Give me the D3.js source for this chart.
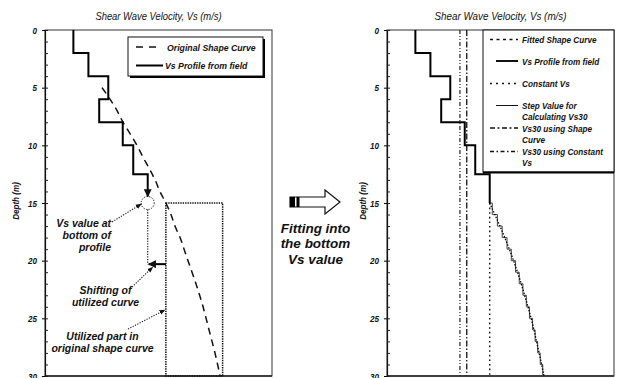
<!DOCTYPE html>
<html>
<head>
<meta charset="utf-8">
<script src="https://cdn.jsdelivr.net/npm/d3@7"></script>
<style>
  body { margin: 0; background: #fff; }
  svg { display: block; }
</style>
</head>
<body>
<svg id="chart" width="621" height="378"></svg>
<script>
// ---- data ----------------------------------------------------------------
const depthTicks = [0, 5, 10, 15, 20, 25, 30];
const minorDepthTicks = [0,1,2,3,4,5,6,7,8,9,10,11,12,13,14,15,16,17,18,19,20,21,22,23,24,25,26,27,28,29,30];

// field Vs profile (layer top, layer bottom in m, Vs in m/s)
const layerTop    = [0, 2, 4, 6, 8, 10, 12.5];
const layerBottom = [2, 4, 6, 8, 10, 12.5, 15];
const layerVs     = [100, 153, 223, 191, 274, 311, 362];

// original shape curve
const shapeDepth = [5, 6, 7, 8, 9, 10, 11, 12, 13, 14, 15, 16, 17, 18, 19, 20, 22, 24, 26, 28, 30];
const shapeVs    = [201, 229, 254, 275, 300, 324, 345, 367, 388, 405, 426, 444, 458, 476, 490, 504, 532, 557, 578, 599, 617];

// shape curve fitted into the bottom Vs value
const fittedDepth = [15, 16, 17, 18, 19, 20, 21, 22, 23, 24, 25, 26, 27, 28, 29, 30];
const fittedVs    = [362, 380, 398, 415, 431, 446, 460, 473, 485, 497, 508, 518, 527, 536, 545, 553];

// step values used for Vs30 (1 m steps below the profile)
const stepTop = [15, 16, 17, 18, 19, 20, 21, 22, 23, 24, 25, 26, 27, 28, 29];
const stepVs  = [371, 389, 406, 423, 438, 453, 466, 479, 491, 502, 513, 522, 531, 540, 549];

const constantVs   = 362;
const vs30Shape    = 281;
const vs30Constant = 257;

// part of the original curve that is used
const utilizedVs    = [426, 626];
const utilizedDepth = [15, 30];
const shiftDepth    = 20.3;

// ---- layout --------------------------------------------------------------
const SANS = "'Liberation Sans',Arial,sans-serif";
const TOP = 30, BOTTOM = 376;
const VS_DOMAIN = [0, 800];

const svg = d3.select("#chart");
const y = d3.scaleLinear().domain([0, 30]).range([TOP, BOTTOM]);
const xL = d3.scaleLinear().domain(VS_DOMAIN).range([45, 272]);
const xR = d3.scaleLinear().domain(VS_DOMAIN).range([387, 614]);

// condensed italic text: drawn at (x, y) and squeezed horizontally by sx
function ctext(parent, x, y0, lines, o) {
  const t = parent.append("text")
    .attr("transform", `translate(${x},${y0}) scale(${o.sx || 1},1)`)
    .attr("text-anchor", o.anchor || "start")
    .attr("font-family", SANS).attr("font-style", "italic")
    .attr("font-weight", o.bold ? "bold" : "normal")
    .attr("font-size", o.size).attr("fill", "#111");
  [].concat(lines).forEach((s, i) => t.append("tspan").attr("x", 0).attr("y", i * (o.dy || 0)).text(s));
  return t;
}

const defs = svg.append("defs");
defs.append("marker").attr("id", "head").attr("viewBox", "0 0 10 10")
  .attr("refX", 9).attr("refY", 5).attr("markerWidth", 6).attr("markerHeight", 6)
  .attr("markerUnits", "userSpaceOnUse").attr("orient", "auto")
  .append("path").attr("d", "M0,1 L10,5 L0,9 Z").attr("fill", "#111");
defs.append("marker").attr("id", "headBig").attr("viewBox", "0 0 10 10")
  .attr("refX", 9).attr("refY", 5).attr("markerWidth", 8).attr("markerHeight", 8)
  .attr("markerUnits", "userSpaceOnUse").attr("orient", "auto")
  .append("path").attr("d", "M0,0 L10,5 L0,10 Z").attr("fill", "#111");

function panelFrame(x, titleSx, labelX) {
  const [x0, x1] = x.range();
  const g = svg.append("g");
  g.append("rect").attr("x", x0).attr("y", TOP).attr("width", x1 - x0).attr("height", BOTTOM - TOP)
    .attr("fill", "none").attr("stroke", "#333").attr("stroke-width", 1);
  g.append("line").attr("x1", x0).attr("x2", x1).attr("y1", BOTTOM).attr("y2", BOTTOM)
    .attr("stroke", "#222").attr("stroke-width", 1.6);

  const major = d3.axisLeft(y).tickValues(depthTicks).tickSize(3).tickPadding(5).tickFormat(d3.format("d"));
  const ga = g.append("g").attr("transform", `translate(${x0},0)`).call(major);
  ga.select(".domain").attr("stroke", "#111").attr("stroke-width", 1.2);
  ga.selectAll("text").each(function () {
    const t = d3.select(this);
    const tx = +t.attr("x");
    t.attr("x", 0).attr("transform", `translate(${tx},0) scale(0.85,1)`);
  }).attr("font-family", SANS).attr("font-style", "italic")
    .attr("font-weight", "bold").attr("font-size", 9.5).attr("fill", "#111");
  const minor = d3.axisRight(y).tickValues(minorDepthTicks).tickSize(3).tickFormat("");
  const gm = g.append("g").attr("transform", `translate(${x0},0)`).call(minor);
  gm.select(".domain").remove();
  gm.selectAll("line").attr("stroke", "#222");

  ctext(g, (x0 + x1) / 2, 19.5, "Shear Wave Velocity, Vs (m/s)",
    { size: 10.7, sx: titleSx, anchor: "middle" });
  g.append("text").attr("transform", `translate(${labelX},${y(15) - 2}) rotate(-90) scale(0.9,1)`)
    .attr("text-anchor", "middle").attr("font-family", SANS).attr("font-style", "italic")
    .attr("font-weight", "bold").attr("font-size", 9).attr("fill", "#111").text("Depth (m)");
}

function profilePoints(x, lastBottom) {
  const pts = [];
  layerVs.forEach((v, i) => {
    const bot = i === layerVs.length - 1 && lastBottom != null ? lastBottom : y(layerBottom[i]);
    pts.push([x(v), y(layerTop[i])], [x(v), bot]);
  });
  return pts;
}

const line = d3.line();

// ---- left panel ----------------------------------------------------------
panelFrame(xL, 0.88, 19);

// utilized part box
svg.append("rect")
  .attr("x", xL(utilizedVs[0])).attr("y", y(utilizedDepth[0]))
  .attr("width", xL(utilizedVs[1]) - xL(utilizedVs[0]))
  .attr("height", y(utilizedDepth[1]) - y(utilizedDepth[0]))
  .attr("fill", "none").attr("stroke", "#111").attr("stroke-width", 1.5)
  .attr("stroke-dasharray", "1.4,1");

// original shape curve
svg.append("path")
  .attr("d", d3.line().x((d, i) => xL(shapeVs[i])).y(d => y(d)).curve(d3.curveMonotoneY)(shapeDepth))
  .attr("fill", "none").attr("stroke", "#111").attr("stroke-width", 1.5)
  .attr("stroke-dasharray", "7,5");

// field profile, ending in an arrow onto the bottom value
const circleR = 6.5;
svg.append("path").attr("d", line(profilePoints(xL, y(15) - circleR)))
  .attr("fill", "none").attr("stroke", "#000").attr("stroke-width", 2)
  .attr("marker-end", "url(#headBig)");

// bottom value marker
const bx = xL(layerVs[layerVs.length - 1]), by = y(15);
svg.append("circle").attr("cx", bx).attr("cy", by).attr("r", circleR)
  .attr("fill", "none").attr("stroke", "#222").attr("stroke-width", 1).attr("stroke-dasharray", "1.3,1.3");
svg.append("line").attr("x1", bx).attr("x2", bx).attr("y1", by + circleR).attr("y2", y(shiftDepth))
  .attr("stroke", "#222").attr("stroke-width", 1.2).attr("stroke-dasharray", "1.3,1.3");

// shifting arrow
svg.append("line").attr("x1", xL(utilizedVs[0])).attr("x2", bx + 1)
  .attr("y1", y(shiftDepth)).attr("y2", y(shiftDepth))
  .attr("stroke", "#000").attr("stroke-width", 2).attr("marker-end", "url(#headBig)");

// annotations
const noteOpts = { size: 10.5, bold: true, dy: 12 };
ctext(svg, 111, 226.5, ["Vs value at", "bottom of", "profile"], { ...noteOpts, anchor: "end" });
ctext(svg, 105.5, 293.5, ["Shifting of", "utilized curve"], { ...noteOpts, anchor: "middle" });
ctext(svg, 102.5, 340, ["Utilized part in", "original shape curve"], { ...noteOpts, anchor: "middle" });

function pointer(x1, y1, x2, y2) {
  svg.append("line").attr("x1", x1).attr("y1", y1).attr("x2", x2).attr("y2", y2)
    .attr("stroke", "#222").attr("stroke-width", 1.1).attr("stroke-dasharray", "1.3,1.3")
    .attr("marker-end", "url(#head)");
}
pointer(112, 222, bx - circleR, by + 1);
pointer(132, 287, bx + 5, y(shiftDepth) + 3);
pointer(128, 329, xL(utilizedVs[0]) - 1, 310);

// legend (left)
const lgL = svg.append("g");
lgL.append("rect").attr("x", 130).attr("y", 39).attr("width", 135).attr("height", 39).attr("fill", "#000");
lgL.append("rect").attr("x", 128).attr("y", 37).attr("width", 135).attr("height", 39)
  .attr("fill", "#fff").attr("stroke", "#111").attr("stroke-width", 1);
lgL.append("line").attr("x1", 136).attr("x2", 159).attr("y1", 47).attr("y2", 47)
  .attr("stroke", "#111").attr("stroke-width", 1.5).attr("stroke-dasharray", "7,6");
lgL.append("line").attr("x1", 136).attr("x2", 163).attr("y1", 65.5).attr("y2", 65.5)
  .attr("stroke", "#000").attr("stroke-width", 2);
ctext(lgL, 167, 50.5, "Original Shape Curve", { size: 9.5, sx: 0.92, bold: true });
ctext(lgL, 165, 69, "Vs Profile from field", { size: 9.5, sx: 0.92, bold: true });

// ---- transition arrow ----------------------------------------------------
const arr = svg.append("g");
arr.append("path").attr("d", "M290,197 L325,197 L325,190 L340,202 L325,214 L325,207 L290,207 Z")
  .attr("fill", "#fff").attr("stroke", "#111").attr("stroke-width", 1.2);
arr.append("rect").attr("x", 290).attr("y", 197).attr("width", 5).attr("height", 10).attr("fill", "#000");
arr.append("rect").attr("x", 296.5).attr("y", 197).attr("width", 3).attr("height", 10).attr("fill", "#000");
ctext(arr, 315.5, 232.5, ["Fitting into", "the bottom", "Vs value"],
  { size: 13.5, bold: true, anchor: "middle", dy: 15.8 });

// ---- right panel ---------------------------------------------------------
panelFrame(xR, 0.92, 366);

// Vs30 lines
svg.append("line").attr("x1", xR(vs30Constant)).attr("x2", xR(vs30Constant)).attr("y1", y(0)).attr("y2", y(30))
  .attr("stroke", "#222").attr("stroke-width", 1.2).attr("stroke-dasharray", "4,2,1,2,1,2");
svg.append("line").attr("x1", xR(vs30Shape)).attr("x2", xR(vs30Shape)).attr("y1", y(0)).attr("y2", y(30))
  .attr("stroke", "#222").attr("stroke-width", 1.4).attr("stroke-dasharray", "6,2,1.5,2");

// constant Vs below the profile
svg.append("line").attr("x1", xR(constantVs)).attr("x2", xR(constantVs)).attr("y1", y(15)).attr("y2", y(30))
  .attr("stroke", "#111").attr("stroke-width", 1.4).attr("stroke-dasharray", "1.6,3");

// step values
const stepPts = [[xR(constantVs), y(stepTop[0])]];
stepVs.forEach((v, i) => stepPts.push([xR(v), y(stepTop[i])], [xR(v), y(stepTop[i] + 1)]));
svg.append("path").attr("d", line(stepPts)).attr("fill", "none").attr("stroke", "#444").attr("stroke-width", 1);

// fitted shape curve
svg.append("path")
  .attr("d", d3.line().x((d, i) => xR(fittedVs[i])).y(d => y(d)).curve(d3.curveMonotoneY)(fittedDepth))
  .attr("fill", "none").attr("stroke", "#000").attr("stroke-width", 1.3).attr("stroke-dasharray", "1.5,1.5");

// legend (right)
const lgR = svg.append("g");
lgR.append("rect").attr("x", 483).attr("y", 30).attr("width", 131).attr("height", 142)
  .attr("fill", "#fff").attr("stroke", "#111").attr("stroke-width", 1);
lgR.append("line").attr("x1", 483).attr("x2", 614).attr("y1", 172.5).attr("y2", 172.5)
  .attr("stroke", "#000").attr("stroke-width", 2.2);

// field profile (right)
svg.append("path").attr("d", line(profilePoints(xR)))
  .attr("fill", "none").attr("stroke", "#000").attr("stroke-width", 2);

const legendRows = [
  { y: 39.5, dash: "3,3.5", w: 1.3, x1: 490, lines: ["Fitted Shape Curve"] },
  { y: 61,   dash: null,    w: 2,   x1: 496, lines: ["Vs Profile from field"] },
  { y: 83.5, dash: "2,4",   w: 1.6, x1: 490, lines: ["Constant Vs"] },
  { y: 105.5, dash: null,   w: 1,   x1: 496, lines: ["Step Value for", "Calculating Vs30"] },
  { y: 128,  dash: "5,2.5,2,2.5", w: 1.3, x1: 490, lines: ["Vs30 using Shape", "Curve"] },
  { y: 151.5, dash: "4,2.5,1.5,2.5", w: 1.3, x1: 490, lines: ["Vs30 using Constant", "Vs"] }
];
legendRows.forEach(r => {
  const l = lgR.append("line").attr("x1", r.x1).attr("x2", 518).attr("y1", r.y).attr("y2", r.y)
    .attr("stroke", "#111").attr("stroke-width", r.w);
  if (r.dash) l.attr("stroke-dasharray", r.dash);
  ctext(lgR, 522, r.y + 3.5, r.lines, { size: 9.3, sx: 0.88, bold: true, dy: 11.5 });
});
</script>
</body>
</html>
